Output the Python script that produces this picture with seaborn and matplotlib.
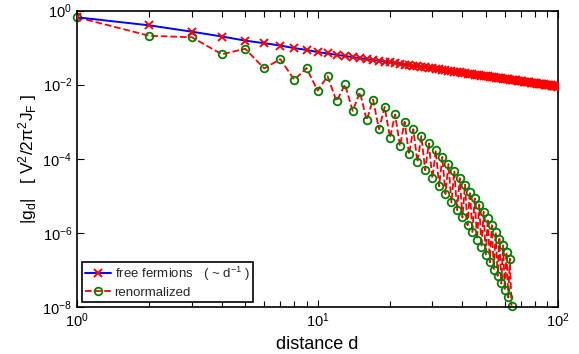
import numpy as np
import pandas as pd
import matplotlib
matplotlib.use("Agg")
import matplotlib.pyplot as plt
import matplotlib.ticker as mticker
import seaborn as sns

# free fermions, d = 1..100
d_free = list(range(1, 101))
g_free = [
    0.66, 0.40, 0.27, 0.20, 0.155, 0.132, 0.114, 0.097, 0.087, 0.076,
    0.0696, 0.0641, 0.0595, 0.0556, 0.0521, 0.0491, 0.0464, 0.0440, 0.0418, 0.0399,
    0.0381, 0.0365, 0.0350, 0.0337, 0.0324, 0.0313, 0.0302, 0.0292, 0.0282, 0.0274,
    0.0265, 0.0258, 0.0250, 0.0244, 0.0237, 0.0231, 0.0225, 0.0220, 0.0214, 0.0209,
    0.0205, 0.0200, 0.0196, 0.0192, 0.0188, 0.0184, 0.0180, 0.0177, 0.0173, 0.0170,
    0.0167, 0.0164, 0.0161, 0.0158, 0.0156, 0.0153, 0.0151, 0.0148, 0.0146, 0.0144,
    0.0141, 0.0139, 0.0137, 0.0135, 0.0133, 0.0131, 0.0130, 0.0128, 0.0126, 0.0124,
    0.0123, 0.0121, 0.0120, 0.0118, 0.0117, 0.0115, 0.0114, 0.0112, 0.0111, 0.0110,
    0.0109, 0.0107, 0.0106, 0.0105, 0.0104, 0.0103, 0.0102, 0.0101, 0.00995, 0.00985,
    0.00975, 0.00965, 0.00955, 0.00946, 0.00936, 0.00927, 0.00918, 0.00909, 0.00901, 0.00893,
]

# renormalized, d = 1..64
d_ren = list(range(1, 65))
g_ren = [
    0.66, 0.209, 0.191, 0.0661, 0.0933, 0.0275, 0.049, 0.0135, 0.0282, 0.00692,
    0.017, 0.00355, 0.0102, 0.00195, 0.0063, 0.0011, 0.00398, 6.3e-4, 0.00251, 3.7e-4,
    0.00158, 2.2e-4, 1.0e-3, 1.32e-4, 6.3e-4, 8.1e-5, 4.1e-4, 4.9e-5, 2.6e-4, 2.95e-5,
    1.7e-4, 1.8e-5, 1.12e-4, 1.12e-5, 7.2e-5, 6.6e-6, 4.7e-5, 4.1e-6, 3.0e-5, 2.6e-6,
    2.0e-5, 1.6e-6, 1.3e-5, 1.05e-6, 8.5e-6, 6.6e-7, 5.8e-6, 4.2e-7, 3.7e-6, 2.6e-7,
    2.45e-6, 1.6e-7, 1.6e-6, 1.0e-7, 1.05e-6, 6.9e-8, 6.9e-7, 4.3e-8, 4.6e-7, 2.8e-8,
    3.0e-7, 1.8e-8, 2.0e-7, 1.07e-8,
]

x_ticks = [1, 10, 100]
x_minor = [2, 3, 4, 5, 6, 7, 8, 9, 20, 30, 40, 50, 60, 70, 80, 90]
y_ticks = [1e0, 1e-2, 1e-4, 1e-6, 1e-8]

sns.set_style("ticks")
plt.rcParams["font.family"] = ["Liberation Sans", "DejaVu Sans"]
plt.rcParams["mathtext.default"] = "regular"
plt.rcParams["xtick.direction"] = "in"
plt.rcParams["ytick.direction"] = "in"

fig = plt.figure(figsize=(5.79, 3.54), dpi=100)
ax = fig.add_axes([0.133, 0.133, 0.831, 0.837])

df_free = pd.DataFrame({"d": d_free, "g": g_free})
df_ren = pd.DataFrame({"d": d_ren, "g": g_ren})

sns.lineplot(data=df_free, x="d", y="g", ax=ax, color="blue", lw=1.4,
             marker="x", markersize=5.5, markeredgecolor="red", markeredgewidth=1.4,
             label=r"free fermions   ( ~ d$^{-1}$ )", zorder=3)
sns.lineplot(data=df_ren, x="d", y="g", ax=ax, color="red", lw=1.3, linestyle="--",
             marker="o", markersize=5.5, markerfacecolor="none", markeredgecolor="green",
             markeredgewidth=1.3, label="renormalized", zorder=2, clip_on=False)

ax.set_xscale("log")
ax.set_yscale("log")
ax.set_xlim(1, 100)
ax.set_ylim(1e-8, 1)
ax.xaxis.set_major_locator(mticker.FixedLocator(x_ticks))
ax.xaxis.set_minor_locator(mticker.FixedLocator(x_minor))
ax.xaxis.set_minor_formatter(mticker.NullFormatter())
ax.yaxis.set_major_locator(mticker.FixedLocator(y_ticks))
ax.yaxis.set_minor_locator(mticker.NullLocator())
ax.tick_params(which="both", top=True, right=True, bottom=True, left=True,
               labelsize=10.5, color="black", labelcolor="black")
ax.tick_params(which="major", length=5, width=0.8)
ax.tick_params(which="minor", length=4, width=0.8)
for s in ax.spines.values():
    s.set_linewidth(1.2)
    s.set_color("black")

ax.set_xlabel("distance d", fontsize=13, color="black")
ax.set_ylabel(r"$|g_d|$   [ $V^2/2\pi^2J_F$ ]", fontsize=12.5, color="black")
ax.yaxis.set_label_coords(-0.078, 0.5)

leg = ax.legend(loc="lower left", fontsize=9.5, frameon=True, fancybox=False,
                edgecolor="black", framealpha=1, borderpad=0.25, handlelength=2.0,
                labelspacing=0.28, borderaxespad=0.35, handletextpad=0.25)
leg.get_frame().set_linewidth(1.2)

fig.savefig("out.png", dpi=100)
